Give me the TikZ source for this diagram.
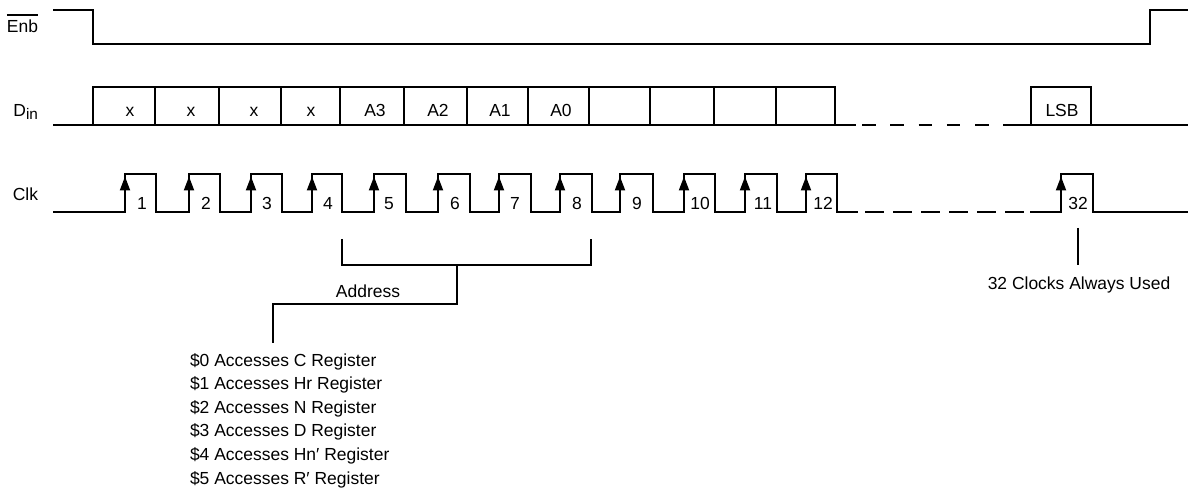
\documentclass[tikz,border=0pt]{standalone}
\usepackage{fontspec}
\setmainfont{Liberation Sans}
\usetikzlibrary{arrows.meta}
\newcommand\barred[1]{\setbox0\hbox{#1}\rlap{\rule[13pt]{\wd0}{0.9pt}}\box0}
\begin{document}
\begin{tikzpicture}[x=0.75pt,y=-0.75pt,
  sig/.style={line width=1.5pt},
  leader/.style={line width=0.9pt},
  lbl/.style={font=\fontsize{13.1}{15.7}\selectfont, inner sep=0pt, outer sep=0pt},
  clkarrow/.style={-{Triangle[length=10.5pt,width=7.5pt]}, line width=1.5pt}]
\useasboundingbox (0,0) rectangle (1191,491);

% signal names
\node[lbl, anchor=base east] (enb) at (38,33) {\barred{Enb}};
\node[lbl, anchor=base east] (din) at (38,117) {D\raisebox{-2pt}{\fontsize{11.5}{12}\selectfont in}};
\node[lbl, anchor=base east] (clk) at (38,201) {Clk};

% Enb waveform
\draw[sig] (53,10) -- (93,10) -- (93,44) -- (1150,44) -- (1150,10) -- (1188,10);

% Din waveform
\draw[sig] (53,125) -- (856,125);
\draw[sig] (93,125) -- (93,87) -- (835,87) -- (835,125);
\foreach \x in {155,219,281,340,404,467,528,589,650,714,776}
  \draw[sig] (\x,87) -- (\x,125);
\draw[sig, dash pattern=on 10.125pt off 11.06pt] (862,125) -- (989,125);
\draw[sig] (1003,125) -- (1188,125);
\draw[sig] (1031,125) -- (1031,87) -- (1091,87) -- (1091,125);
\foreach \x/\t [count=\i] in {130/x,191/x,254/x,311/x,375/A3,438/A2,500/A1,561/A0}
  \node[lbl, anchor=base] (bit\i) at (\x,117) {\t};
\node[lbl, anchor=base] (lsb) at (1062,117) {LSB};

% Clk waveform
\draw[sig] (53,212)
  foreach \r/\f in {125/156,189/220,251/282,312/342,374/406,438/470,499/531,560/592,620/653,684/715,745/777,806/837}
  { -- (\r,212) -- (\r,174) -- (\f,174) -- (\f,212) } -- (858,212);
\draw[sig, dash pattern=on 14.25pt off 6.75pt] (865,212) -- (1024,212);
\draw[sig] (1030,212) -- (1061,212) -- (1061,174) -- (1093,174) -- (1093,212) -- (1188,212);
\foreach \r in {125,189,251,312,374,438,499,560,620,684,745,806,1061}
  \draw[clkarrow] (\r,200) -- (\r,176.5);
\foreach \x/\n in {142/1,206/2,267/3,328/4,389/5,455/6,515/7,577/8,637/9,700/10,763/11,823/12,1078/32}
  \node[lbl, anchor=base] (n\n) at (\x,210) {\n};

% Address bracket
\coordinate (brL) at (342,239);
\coordinate (brR) at (591,239);
\coordinate (brLc) at (342,265);
\coordinate (brRc) at (591,265);
\coordinate (stemT) at (457,265);
\coordinate (stemB) at (457,304);
\coordinate (legT) at (273,304);
\coordinate (legB) at (273,343);
\draw[leader] (brL) -- (brLc) -- (brRc) -- (brR);
\draw[leader] (stemT) -- (stemB) -- (legT) -- (legB);
\node[lbl, anchor=base] (addr) at (368,298) {Address};

\foreach \t [count=\i from 0] in {{\$0 Accesses C Register},{\$1 Accesses Hr Register},{\$2 Accesses N Register},{\$3 Accesses D Register},{\$4 Accesses Hn′ Register},{\$5 Accesses R′ Register}}
  \node[lbl, anchor=base west] (reg\i) at (190,366+23.6*\i) {\t};

% 32 clocks note
\coordinate (ptT) at (1078,228);
\node[lbl, anchor=base] (note) at (1079,290) {32 Clocks Always Used};
\draw[leader] (ptT) -- (1078,265);
\end{tikzpicture}
\end{document}
